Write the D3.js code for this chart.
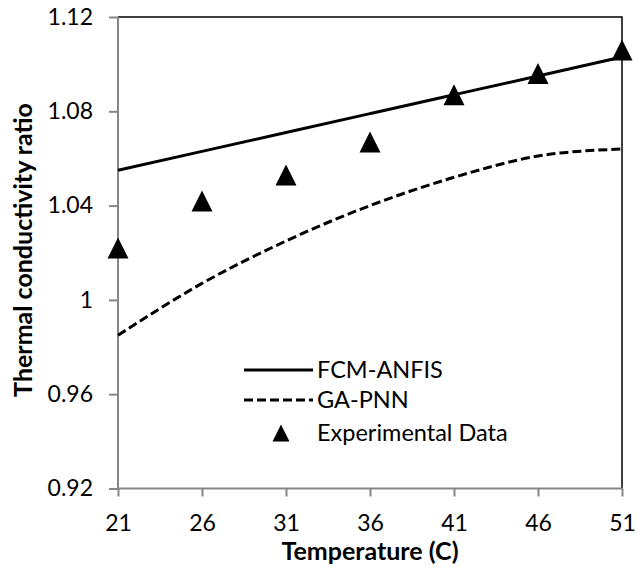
<!DOCTYPE html>
<meta charset="utf-8">
<style>
body { margin: 0; background: #fff; }
svg { font-family: Lato, 'Open Sans', sans-serif; }
.axis path, .axis line { stroke: #868686; stroke-width: 2px; }
.axis text { fill: #000; font-size: 23px; font-family: Lato, 'Open Sans', sans-serif; }
</style>
<svg width="638" height="574"></svg>
<script src="https://d3js.org/d3.v7.min.js"></script>
<script>

// data
var temps = [21, 26, 31, 36, 41, 46, 51];
var fcmAnfis = [1.055, 1.063, 1.071, 1.079, 1.087, 1.095, 1.103];
var gaPnn = [0.985, 1.007, 1.025, 1.040, 1.052, 1.061, 1.064];
var experimental = [1.022, 1.042, 1.053, 1.067, 1.087, 1.096, 1.106];
var yTicks = [0.92, 0.96, 1, 1.04, 1.08, 1.12];
var yTickLabels = ["0.92", "0.96", "1", "1.04", "1.08", "1.12"];
var legendNames = ["FCM-ANFIS", "GA-PNN", "Experimental Data"];

var svg = d3.select("svg");
var pLeft = 118, pRight = 622, pTop = 17, pBottom = 488.5;

var x = d3.scaleLinear().domain([21, 51]).range([pLeft, pRight]);
var y = d3.scaleLinear().domain([0.92, 1.12]).range([pBottom, pTop]);

// plot area border (top/right black)
svg.append("path")
  .attr("d", "M" + pLeft + "," + pTop + "H" + pRight + "V" + pBottom)
  .attr("fill", "none")
  .attr("stroke", "#000")
  .attr("stroke-width", 1.5);

var yAxis = svg.append("g")
  .attr("class", "axis")
  .attr("transform", "translate(" + pLeft + ",0)")
  .call(d3.axisLeft(y).tickValues(yTicks)
    .tickFormat(function(d, i) { return yTickLabels[i]; })
    .tickSize(9).tickPadding(16));
yAxis.select(".domain").attr("d", "M0," + pTop + "V" + pBottom);

var xAxis = svg.append("g")
  .attr("class", "axis")
  .attr("transform", "translate(0," + pBottom + ")")
  .call(d3.axisBottom(x).tickValues(temps).tickSize(8).tickPadding(18));
xAxis.select(".domain").attr("d", "M" + pLeft + ",0H" + pRight);

svg.append("text")
  .attr("x", (pLeft + pRight) / 2)
  .attr("y", 560)
  .attr("text-anchor", "middle")
  .style("font-size", "25px")
  .style("font-weight", "bold")
  .text("Temperature (C)");

svg.append("text")
  .attr("transform", "translate(32,250) rotate(-90)")
  .attr("text-anchor", "middle")
  .style("font-size", "25px")
  .style("font-weight", "bold")
  .text("Thermal conductivity ratio");

var line = d3.line()
  .x(function(d, i) { return x(temps[i]); })
  .y(function(d) { return y(d); })
  .curve(d3.curveMonotoneX);

svg.append("path")
  .attr("d", line(fcmAnfis))
  .attr("fill", "none")
  .attr("stroke", "#000")
  .attr("stroke-width", 3);

svg.append("path")
  .attr("d", line(gaPnn))
  .attr("fill", "none")
  .attr("stroke", "#000")
  .attr("stroke-width", 3)
  .attr("stroke-dasharray", "9,4");

function tri(s) {
  var h = s / 2;
  return "M0," + (-h) + "L" + h + "," + h + "L" + (-h) + "," + h + "Z";
}

svg.selectAll(".pt")
  .data(experimental)
  .enter().append("path")
    .attr("class", "pt")
    .attr("transform", function(d, i) { return "translate(" + x(temps[i]) + "," + y(d) + ")"; })
    .attr("d", tri(21))
    .attr("fill", "#000");

// legend
var lg = svg.append("g").attr("transform", "translate(244,370)");
var rows = lg.selectAll("g")
  .data(legendNames)
  .enter().append("g")
    .attr("transform", function(d, i) { return "translate(0," + [0, 30, 63][i] + ")"; });

rows.filter(function(d, i) { return i < 2; })
  .append("line")
    .attr("x1", 0).attr("x2", 69)
    .attr("stroke", "#000")
    .attr("stroke-width", 3)
    .attr("stroke-dasharray", function(d, i) { return i == 1 ? "9,4" : null; });

rows.filter(function(d, i) { return i == 2; })
  .append("path")
    .attr("transform", "translate(37,0)")
    .attr("d", tri(17))
    .attr("fill", "#000");

rows.append("text")
  .attr("x", 73)
  .attr("y", 8)
  .style("font-size", "23.5px")
  .text(function(d) { return d; });

</script>
